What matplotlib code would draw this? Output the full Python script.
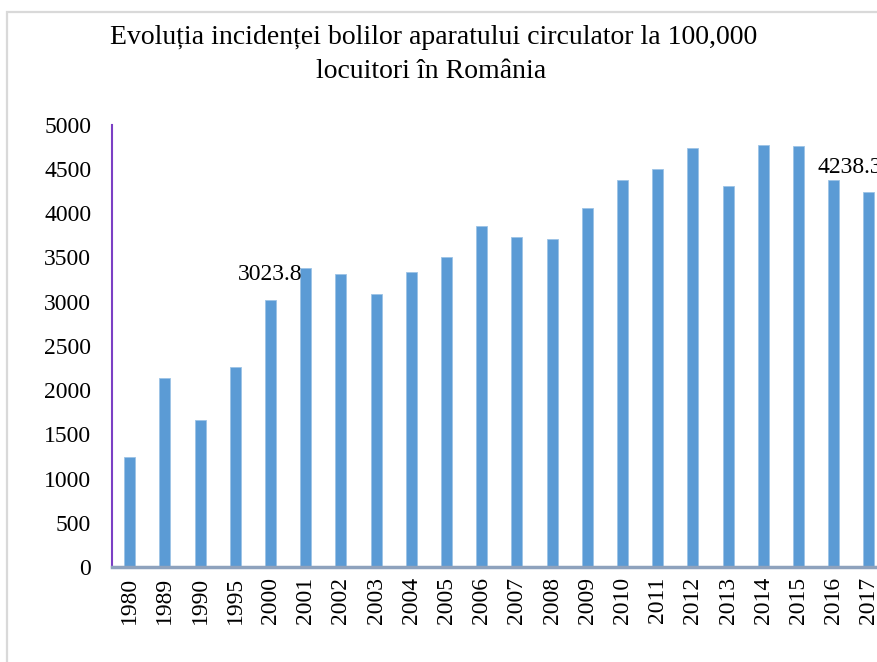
import matplotlib
matplotlib.use("Agg")
import matplotlib.pyplot as plt
from matplotlib.patches import Rectangle

# data
years = ['1980', '1989', '1990', '1995', '2000', '2001', '2002', '2003',
         '2004', '2005', '2006', '2007', '2008', '2009', '2010', '2011',
         '2012', '2013', '2014', '2015', '2016', '2017']
incidence = [1240, 2139, 1666, 2263, 3023.8, 3378, 3310, 3085,
             3333, 3502, 3851, 3727, 3704, 4054, 4370, 4495,
             4740, 4310, 4765, 4758, 4370, 4238.3]
labelled = {4: '3023.8', 21: '4238.3'}

plt.rcParams['font.family'] = ['Liberation Serif', 'DejaVu Serif']

fig = plt.figure(figsize=(8.77, 6.62), dpi=100)

# light grey chart border (cropped on right and bottom)
fig.patches.append(Rectangle((6.5 / 877, -0.1), 1.2, 1.1 - 11.5 / 662,
                             transform=fig.transFigure, fill=False,
                             edgecolor='#d9d9d9', linewidth=1.6))

ax = fig.add_axes([112.1 / 877, 95 / 662, 774.4 / 877, 442.3 / 662])
x = list(range(len(years)))
ax.bar(x, incidence, width=0.31, color='#5b9bd5', edgecolor='#9cc3e6',
       linewidth=0.6, zorder=2)

ax.set_xlim(-0.5, len(years) - 0.5)
ax.set_ylim(0, 5000)
ax.set_yticks(range(0, 5001, 500))
ax.set_xticks(x)
ax.set_xticklabels(years, rotation=90)
ax.tick_params(axis='both', length=0, labelsize=17)
ax.tick_params(axis='y', pad=15)
ax.tick_params(axis='x', pad=7)

for side in ['top', 'right']:
    ax.spines[side].set_visible(False)
ax.spines['left'].set_color('#7b3fc4')
ax.spines['left'].set_linewidth(1.5)
ax.spines['bottom'].set_color('#8ea2bd')
ax.spines['bottom'].set_linewidth(2.5)
ax.spines['bottom'].set_zorder(3)

for i, txt in labelled.items():
    dx = -19 if i == len(years) - 1 else 0
    ax.annotate(txt, (i, incidence[i]), xytext=(dx, 25),
                textcoords='offset pixels', ha='center', va='center',
                fontsize=17, annotation_clip=False)

fig.text(434 / 877, 1 - 37 / 662,
         'Evoluția incidenței bolilor aparatului circulator la 100,000',
         ha='center', va='center', fontsize=20)
fig.text(431 / 877, 1 - 71 / 662, 'locuitori în România',
         ha='center', va='center', fontsize=20)

fig.savefig('out.png', dpi=100)
